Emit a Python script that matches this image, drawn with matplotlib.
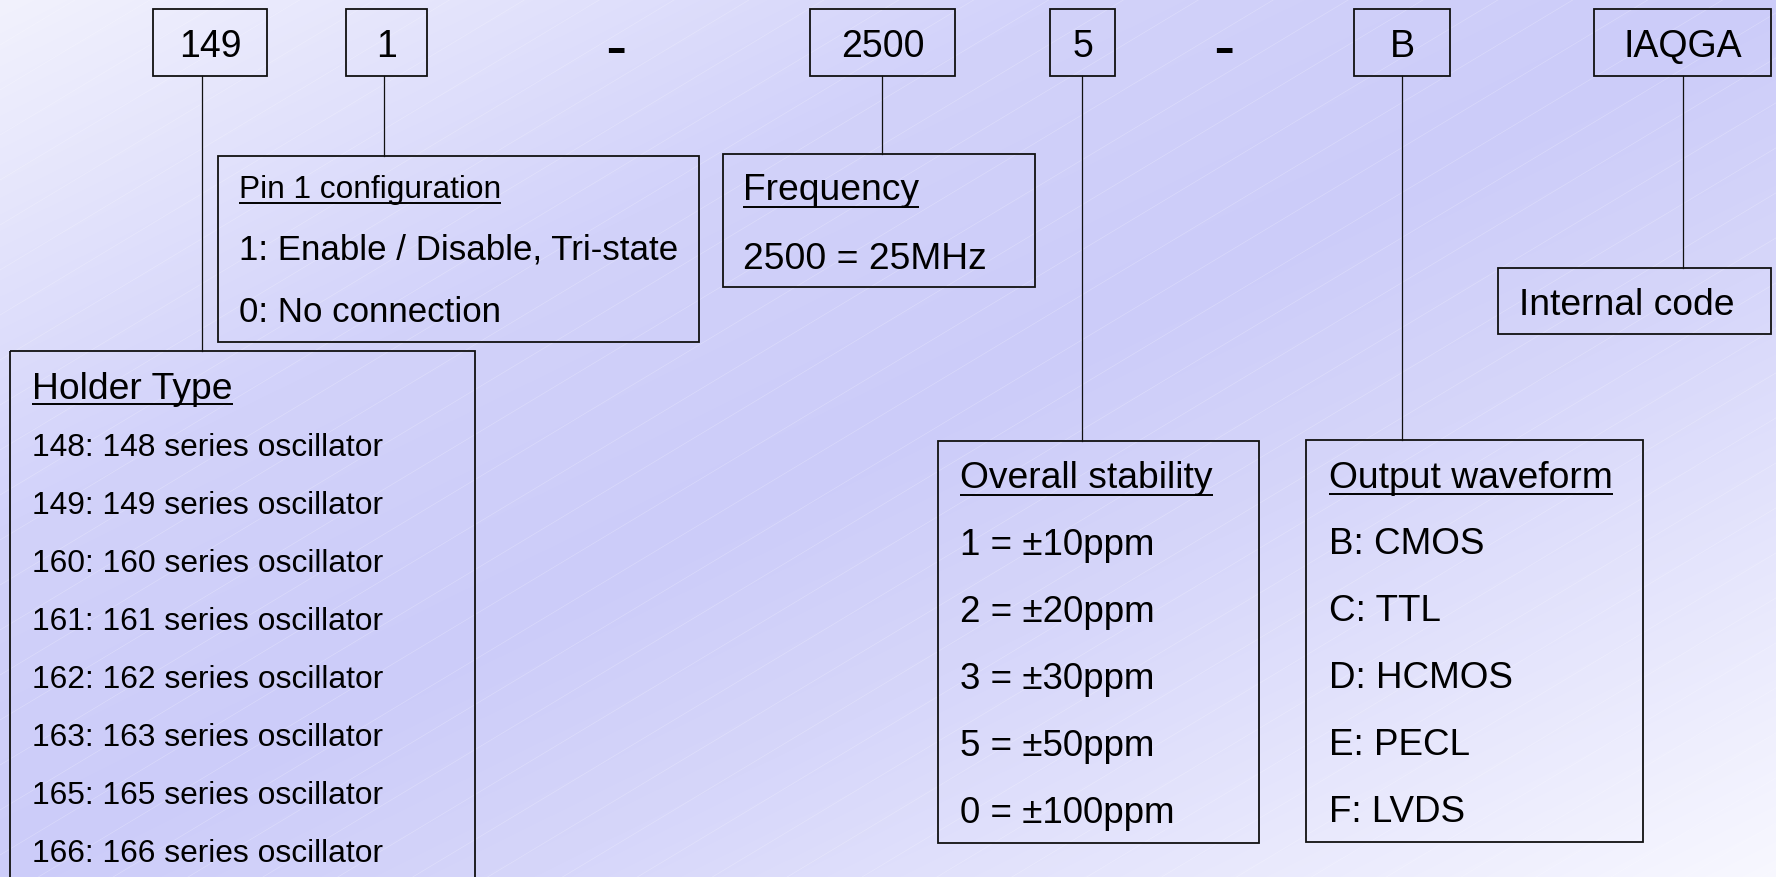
import matplotlib
matplotlib.use("Agg")
import matplotlib.pyplot as plt
import matplotlib.patches as p
import numpy as np

plt.rcParams['font.family'] = ['Liberation Sans', 'DejaVu Sans']

# ---- data ----
code_parts = ["149", "1", "2500", "5", "B", "IAQGA"]
separator = "-"

holder_title = "Holder Type"
holder_codes = ["148", "149", "160", "161", "162", "163", "165", "166"]

pin1_title = "Pin 1 configuration"
pin1_options = ["1: Enable / Disable, Tri-state", "0: No connection"]

freq_title = "Frequency"
freq_options = ["2500 = 25MHz"]

stability_title = "Overall stability"
stability_codes = ["1", "2", "3", "5", "0"]
stability_ppm = [10, 20, 30, 50, 100]

waveform_title = "Output waveform"
waveform_codes = ["B", "C", "D", "E", "F"]
waveform_names = ["CMOS", "TTL", "HCMOS", "PECL", "LVDS"]

internal_label = "Internal code"

W, H = 1776, 877

fig = plt.figure(figsize=(W / 100, H / 100), dpi=100)
ax = fig.add_axes([0, 0, 1, 1])
ax.set_xlim(0, W)
ax.set_ylim(H, 0)
ax.axis('off')

# background gradient (light -> lavender -> light, along the diagonal)
X, Y = np.meshgrid(np.arange(W), np.arange(H))
t = (X / W + Y / H) / 2
stops = [0.0, 0.3, 0.5, 0.65, 1.0]
cols = np.array([[0xF2, 0xF2, 0xFD], [0xD2, 0xD2, 0xFA], [0xCC, 0xCC, 0xF9],
                 [0xD6, 0xD6, 0xFA], [0xF8, 0xF8, 0xFF]]) / 255
img = np.dstack([np.interp(t, stops, cols[:, k]) for k in range(3)])
ax.imshow(img, extent=(0, W, H, 0), zorder=0, aspect='auto')

# faint diagonal lines
slope = np.tan(np.radians(31))
for c in np.arange(0, H + W * slope + 50, 45):
    ax.plot([0, W], [c, c - slope * W], color="white", lw=0.5, alpha=0.25, zorder=1)

ax.set_xlim(0, W)
ax.set_ylim(H, 0)

EDGE = "#111111"
renderer = fig.canvas.get_renderer()


def box(x0, y0, x1, y1):
    ax.add_patch(p.Rectangle((x0, y0), x1 - x0, y1 - y0, fill=False,
                             ec=EDGE, lw=1.3, zorder=3))


def vline(x, y0, y1):
    ax.plot([x, x], [y0, y1], color=EDGE, lw=0.9, zorder=3)


def label(x, y, s, size, ha="left", underline_y=None):
    txt = ax.text(x, y, s, fontsize=size, ha=ha, va="baseline", color="black", zorder=4)
    if underline_y is not None:
        bb = txt.get_window_extent(renderer)
        ax.plot([bb.x0, bb.x1], [underline_y, underline_y], color="black",
                lw=1.4, zorder=4, solid_capstyle="butt")
    return txt


# top code boxes
top_boxes = [(153, 267), (346, 427), (810, 955), (1050, 1115), (1354, 1450), (1594, 1771)]
top_lines = [(202, 351), (384, 156), (882, 154), (1082, 441), (1402, 440), (1683, 268)]
for (x0, x1), s in zip(top_boxes, code_parts):
    box(x0, 9, x1, 76)
    label((x0 + x1) / 2, 57, s, 27, ha="center")
for x, yb in top_lines:
    vline(x, 76, yb)

# dashes between groups
for x in (616, 1224):
    ax.text(x, 68, separator, fontsize=46, ha="center", va="baseline", zorder=4)

# Pin 1 box
box(218, 156, 699, 342)
label(239, 198, pin1_title, 22.8, underline_y=203)
for i, s in enumerate(pin1_options):
    label(239, 259 + 63 * i, s, 25.1)

# Frequency box
box(723, 154, 1035, 287)
label(743, 200, freq_title, 26.8, underline_y=207)
for i, s in enumerate(freq_options):
    label(743, 269 + 60 * i, s, 26.8)

# Internal code box
box(1498, 268, 1771, 334)
label(1519, 315, internal_label, 26.8)

# Holder type box (runs past the bottom edge)
box(10, 351, 475, H + 20)
label(32, 399, holder_title, 26.8, underline_y=404)
for i, c in enumerate(holder_codes):
    label(32, 456 + 58 * i, f"{c}: {c} series oscillator", 22.9)

# Overall stability box
box(938, 441, 1259, 843)
label(960, 488, stability_title, 26.8, underline_y=495)
for i, (c, ppm) in enumerate(zip(stability_codes, stability_ppm)):
    label(960, 555 + 67 * i, f"{c} = ±{ppm}ppm", 26.5)

# Output waveform box
box(1306, 440, 1643, 842)
label(1329, 488, waveform_title, 26.8, underline_y=494)
for i, (c, n) in enumerate(zip(waveform_codes, waveform_names)):
    label(1329, 554 + 67 * i, f"{c}: {n}", 26.5)

fig.savefig("out.png", dpi=100)
